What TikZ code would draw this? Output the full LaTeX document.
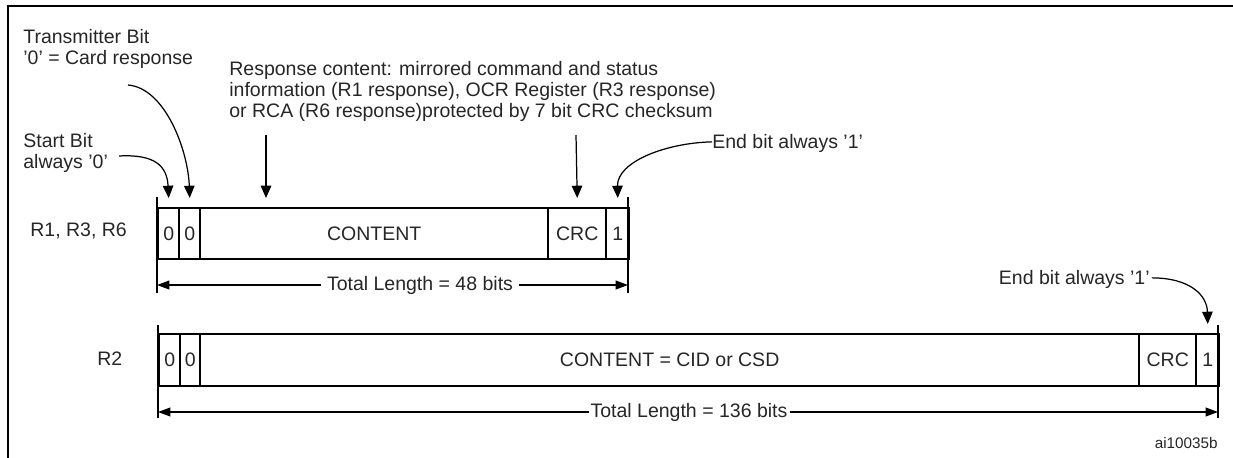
\documentclass[tikz,border=0pt]{standalone}
\usepackage{fontspec}
\setmainfont{Liberation Sans}
\usetikzlibrary{arrows.meta,calc}
\begin{document}
\begin{tikzpicture}[x=0.02cm,y=-0.02cm,
  lbl/.style={font=\fontsize{11.1}{11.9}\selectfont, inner sep=0pt, text=black!85, align=left},
  cell/.style={draw, line width=1.4pt, inner sep=0pt, minimum height=1.02cm, anchor=north west,
    font=\fontsize{11.1}{11.9}\selectfont, text=black!85},
  thinline/.style={line width=0.7pt},
  arr/.style={line width=0.7pt, -{Triangle[length=7pt,width=6pt]}},
  dimarr/.style={line width=0.7pt, -{Triangle[length=7pt,width=5pt]}}
]
\useasboundingbox (0,0) rectangle (1233,457);
% frame
\draw[line width=1.6pt] (8,470) -- (8,6) -- (1245,6);

% labels (base anchor = baseline of the last line)
\node[lbl, anchor=base west] (tb) at (23,64) {Transmitter Bit\\'0' = Card response};
\node[lbl, anchor=base west] (rc) at (229,117) {Response content: mirrored command and status\\information (R1 response), OCR Register (R3 response)\\or RCA (R6 response)protected by 7 bit CRC checksum};
\node[lbl, anchor=base west] (sb) at (23,168) {Start Bit\\always '0'};
\node[lbl, anchor=base west] (eb1) at (712,148) {End bit always '1'};
\node[lbl, anchor=base east] (eb2) at (1150,284) {End bit always '1'};
\node[lbl, anchor=base west] (r1) at (30,236) {R1, R3, R6};
\node[lbl, anchor=base west] (r2) at (97,365) {R2};
\node[lbl, anchor=base east, font=\fontsize{8.7}{10}\selectfont] (id) at (1218,448) {ai10035b};

% R1 frame
\node[cell, minimum width=0.42cm] (a0) at (157,207) {0};
\node[cell, minimum width=0.42cm] (a1) at (178,207) {0};
\node[cell, minimum width=6.96cm] (ac) at (199,207) {CONTENT};
\node[cell, minimum width=1.16cm] (acrc) at (547,207) {CRC};
\node[cell, minimum width=0.46cm] (ae) at (605,207) {1};

% R2 frame
\node[cell, minimum width=0.42cm, minimum height=1.04cm] (b0) at (158,333) {0};
\node[cell, minimum width=0.40cm, minimum height=1.04cm] (b1) at (179,333) {0};
\node[cell, minimum width=18.78cm, minimum height=1.04cm] (bc) at (199,333) {CONTENT = CID or CSD};
\node[cell, minimum width=1.14cm, minimum height=1.04cm] (bcrc) at (1138,333) {CRC};
\node[cell, minimum width=0.46cm, minimum height=1.04cm] (be) at (1195,333) {1};

% ticks
\coordinate (l1t) at (157,197); \coordinate (l1b) at (157,293);
\coordinate (r1t) at (628,197); \coordinate (r1b) at (628,293);
\coordinate (l2t) at (158,325); \coordinate (l2b) at (158,418);
\coordinate (r2t) at (1218,325); \coordinate (r2b) at (1218,418);
\draw[thinline] (l1t) -- (l1b);
\draw[thinline] (r1t) -- (r1b);
\draw[thinline] (l2t) -- (l2b);
\draw[thinline] (r2t) -- (r2b);

% dimension lines
\node[lbl, inner xsep=3pt] (t48) at (420,285) {Total Length = 48 bits};
\draw[dimarr] (t48.west) -- (t48.west -| l1t);
\draw[dimarr] (t48.east) -- (t48.east -| r1t);
\node[lbl, inner xsep=1pt] (t136) at (689,412) {Total Length = 136 bits};
\draw[dimarr] (t136.west) -- (t136.west -| l2t);
\draw[dimarr] (t136.east) -- (t136.east -| r2t);

% pointer arrows
\coordinate (sbs) at (119,156);
\draw[arr] (sbs) .. controls (155,154) and (167,166) .. ($(a0.north)+(0,-9)$);
\coordinate (tbs) at (128,85);
\draw[arr] (tbs) .. controls (165,88) and (188,150) .. ($(a1.north)+(0,-9)$);
\coordinate (rca) at (266,135);
\draw[arr] (rca) -- ($(rca |- ac.north)+(0,-9)$);
\coordinate (crca) at (576,135);
\draw[arr] (crca) -- ($(acrc.north)+(0,-9)$);
\draw[arr] ([yshift=3.5pt]eb1.base west) .. controls (665,143) and (617,162) .. ($(ae.north)+(0,-9)$);
\draw[arr] ([xshift=1pt,yshift=3.5pt]eb2.base east) .. controls (1190,278) and (1207,295) .. ($(be.north)+(0,-9)$);
\end{tikzpicture}
\end{document}
